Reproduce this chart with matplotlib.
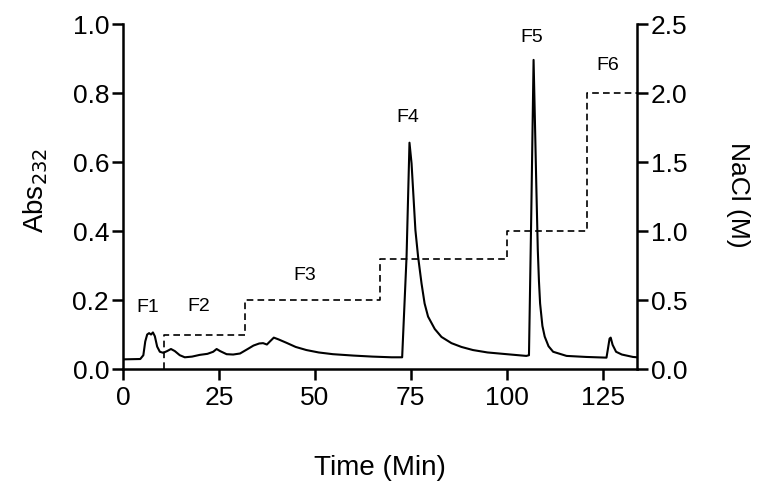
import matplotlib
matplotlib.use("Agg")
import matplotlib.pyplot as plt

plt.rcParams['font.family'] = ['Liberation Sans', 'DejaVu Sans']

time_min = [0, 4.5, 5.3, 5.8, 6.3, 6.8, 7.3, 7.8, 8.3, 8.9, 9.6, 10.5, 11.5, 12.5, 13.5,
            14.8, 16.1, 18, 20, 22, 23.5, 24.4, 25.3, 27, 28.7, 30.5, 32.5, 34, 35.5,
            36.5, 37.5, 38.3, 39.3, 40.5, 42.6, 45, 47.8, 51, 54.7, 60, 65, 70, 72.75,
            73.9, 74.66, 75.2, 75.7, 76.2, 76.9, 77.8, 78.6, 79.5, 81.25, 83.0, 85.6,
            88.2, 91.2, 95, 100, 105.1, 105.8, 106.4, 107.0, 107.35, 107.7, 108.1, 108.4,
            108.7, 109.3, 109.9, 110.9, 112.1, 115.6, 120.7, 126.0, 126.4, 126.8, 127.1,
            127.6, 128.5, 130, 132.9, 134]
abs232 = [0.028, 0.029, 0.04, 0.08, 0.100, 0.104, 0.100, 0.106, 0.095, 0.065, 0.050,
          0.047, 0.052, 0.058, 0.052, 0.040, 0.034, 0.036, 0.041, 0.044, 0.050, 0.058,
          0.052, 0.043, 0.042, 0.045, 0.058, 0.068, 0.074, 0.075, 0.071, 0.080, 0.091,
          0.086, 0.076, 0.064, 0.055, 0.048, 0.043, 0.039, 0.036, 0.034, 0.034,
          0.326, 0.656, 0.596, 0.50, 0.403, 0.326, 0.248, 0.19, 0.152, 0.116, 0.093,
          0.075, 0.064, 0.055, 0.048, 0.043, 0.038, 0.040, 0.45, 0.896, 0.72, 0.538,
          0.345, 0.255, 0.19, 0.125, 0.094, 0.066, 0.050, 0.038, 0.035, 0.033, 0.06,
          0.088, 0.091, 0.07, 0.050, 0.042, 0.035, 0.034]

step_time = [10.8, 10.8, 31.8, 31.8, 66.9, 66.9, 100.0, 100.0, 120.9, 120.9, 134]
nacl = [0.0, 0.25, 0.25, 0.5, 0.5, 0.8, 0.8, 1.0, 1.0, 2.0, 2.0]

frac_labels = ['F1', 'F2', 'F3', 'F4', 'F5', 'F6']
frac_x = [6.5, 19.8, 47.4, 74.2, 106.5, 126.3]
frac_y = [0.177, 0.18, 0.272, 0.728, 0.962, 0.881]

xticks = [0, 25, 50, 75, 100, 125]
yticks_left = [0.0, 0.2, 0.4, 0.6, 0.8, 1.0]
yticks_right = [0.0, 0.5, 1.0, 1.5, 2.0, 2.5]

fig = plt.figure(figsize=(7.64, 4.97), dpi=100)
ax = fig.add_axes([0.161, 0.2575, 0.673, 0.6942])
ax2 = ax.twinx()

ax.plot(time_min, abs232, color='black', lw=1.5, zorder=3)
ax2.plot(step_time, nacl, color='black', lw=1.2, ls=(0, (4, 2.5)))

ax.set_xlim(0, 134)
ax.set_ylim(0, 1.0)
ax2.set_ylim(0, 2.5)

ax.set_xticks(xticks)
ax.set_yticks(yticks_left)
ax.set_yticklabels([f'{v:.1f}' for v in yticks_left])
ax2.set_yticks(yticks_right)
ax2.set_yticklabels([f'{v:.1f}' for v in yticks_right])

for a in (ax, ax2):
    a.spines['top'].set_visible(False)
    for s in ('left', 'right', 'bottom'):
        a.spines[s].set_linewidth(1.8)
    a.tick_params(width=1.8, length=8, pad=2, labelsize=19)
ax.tick_params(axis='x', pad=4)
ax.spines['right'].set_visible(False)
ax2.spines['left'].set_visible(False)
ax2.spines['bottom'].set_visible(False)

for lab, x, y in zip(frac_labels, frac_x, frac_y):
    ax.text(x, y, lab, ha='center', va='center', fontsize=14)

fig.text(380 / 764, 1 - 468 / 497, 'Time (Min)', fontsize=20, ha='center', va='center')
fig.text(36 / 764, 1 - 190 / 497, 'Abs$_{232}$', fontsize=20, ha='center', va='center',
         rotation=90)
fig.text(738 / 764, 1 - 195 / 497, 'NaCl (M)', fontsize=19, ha='center', va='center',
         rotation=270)

fig.savefig('out.png', dpi=100)
